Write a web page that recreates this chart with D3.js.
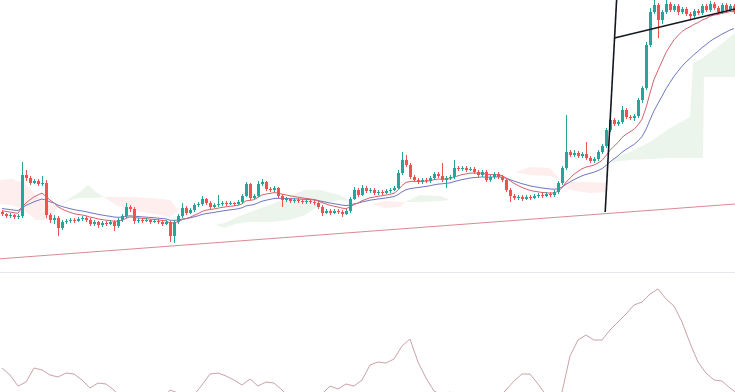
<!DOCTYPE html>
<html>
<head>
<meta charset="utf-8">
<script src="https://cdn.jsdelivr.net/npm/d3@7"></script>
<style>
  html, body { margin: 0; padding: 0; background: #fff; overflow: hidden; }
</style>
</head>
<body>
<svg id="chart" width="735" height="392"></svg>
<script>
// price data (open of each bar = previous close)
const firstOpen = 88;
const closes = [
  86, 84, 85, 83, 84, 125, 122, 117, 119, 116,
  117, 85, 80, 82, 72, 78, 79, 80, 79, 81,
  82, 80, 76, 78, 75, 77, 76, 78, 74, 80,
  84, 93, 91, 79, 80, 79, 80, 78, 79, 78,
  76, 78, 64, 78, 84, 92, 87, 90, 95, 96,
  101, 97, 93, 95, 96, 97, 96, 97, 96, 98,
  104, 116, 102, 104, 116, 118, 111, 110, 112, 104,
  100, 101, 99, 100, 99, 98, 99, 98, 97, 93,
  87, 89, 87, 89, 88, 86, 89, 101, 110, 105,
  112, 109, 110, 107, 108, 107, 109, 110, 112, 127,
  140, 135, 123, 120, 118, 120, 119, 122, 126, 124,
  120, 122, 123, 132, 131, 132, 130, 131, 128, 125,
  128, 120, 123, 126, 123, 120, 110, 104, 102, 103,
  101, 103, 102, 104, 105, 104, 106, 105, 108, 117,
  132, 148, 145, 147, 144, 146, 142, 139, 141, 148,
  154, 170, 180, 176, 178, 190, 183, 182, 184, 200,
  212, 255, 288, 295, 280, 288, 296, 290, 294, 288,
  291, 286, 284, 289, 287, 294, 290, 296, 292, 288,
  295, 290, 294, 288
];
const highs = [
  90, 87, 87, 86, 86, 138, 130, 124, 121, 121,
  124, 120, 87, 85, 84, 80, 81, 82, 82, 83,
  84, 84, 82, 80, 79, 79, 79, 80, 80, 82,
  86, 97, 95, 93, 82, 82, 82, 81, 81, 81,
  80, 80, 79, 80, 86, 97, 94, 92, 97, 98,
  104, 102, 99, 97, 105, 99, 99, 99, 98, 100,
  106, 118, 117, 106, 119, 121, 119, 113, 114, 113,
  106, 103, 102, 102, 102, 101, 101, 100, 100, 99,
  95, 91, 91, 91, 91, 90, 91, 103, 113, 112,
  115, 114, 112, 112, 110, 110, 111, 112, 114, 130,
  148, 145, 137, 125, 122, 122, 122, 124, 128, 128,
  137, 124, 125, 140, 134, 134, 134, 133, 133, 130,
  130, 130, 125, 128, 128, 125, 122, 112, 106, 105,
  105, 105, 105, 106, 107, 107, 108, 108, 110, 119,
  134, 185, 150, 150, 149, 148, 158, 144, 143, 150,
  156, 172, 188, 182, 180, 194, 192, 185, 186, 202,
  214, 258, 292, 305, 297, 290, 304, 298, 296, 296,
  293, 293, 288, 291, 291, 296, 296, 299, 298, 294,
  297, 297, 296, 296
];
const lows = [
  84, 82, 82, 81, 81, 82, 119, 115, 116, 114,
  114, 82, 77, 76, 64, 70, 76, 77, 77, 78,
  79, 78, 74, 74, 72, 73, 74, 75, 69, 72,
  78, 82, 88, 76, 77, 77, 78, 76, 77, 76,
  74, 75, 58, 57, 76, 82, 85, 86, 88, 93,
  94, 95, 91, 92, 93, 94, 94, 95, 94, 95,
  97, 103, 100, 101, 103, 114, 109, 108, 108, 102,
  93, 98, 97, 97, 97, 96, 96, 96, 95, 91,
  84, 86, 85, 86, 86, 83, 85, 87, 100, 103,
  104, 107, 107, 105, 105, 105, 106, 107, 109, 110,
  125, 133, 121, 118, 116, 116, 117, 117, 120, 122,
  118, 112, 120, 121, 129, 129, 128, 129, 126, 123,
  123, 118, 118, 121, 121, 118, 108, 98, 100, 100,
  99, 100, 100, 101, 102, 102, 103, 103, 103, 106,
  115, 130, 143, 143, 142, 142, 140, 137, 137, 139,
  146, 152, 168, 174, 174, 176, 181, 180, 179, 182,
  197, 210, 253, 286, 262, 276, 286, 288, 288, 285,
  286, 284, 280, 282, 285, 285, 288, 288, 290, 286,
  286, 288, 288, 286
];

// ichimoku cloud edges (bar index, span A, span B)
const cloudIdx = [
  -0.5, 2.5, 5.5, 8.5, 11.5, 14.5, 17, 19.5, 21.5, 23.5,
  25.5, 28.5, 32, 37, 42, 44, 53.25, 55.75, 58.25, 62,
  67, 72, 75.75, 79.5, 84.5, 87.5, 92.5, 95.75, 99.5, 100.75,
  104.5, 109.5, 112, 128.25, 132, 137, 139.5, 142, 147, 150.75,
  152, 152.75, 157, 162, 167, 172, 172.75, 175.25, 175.5, 179.5,
  183.25
];
const spanA = [
  96, 95, 90, 80, 80, 95, 102, 108, 115, 108,
  103, 95, 90, 87, 83, 90, 75, 77, 82, 88,
  95, 104, 110, 110, 105, 97, 96, 92, 93, 98,
  105, 104, 100, 128, 125, 124, 120, 110, 107, 108,
  130, 142, 148, 158, 172, 183, 237, 242, 243, 255,
  267
];
const spanB = [
  120, 121, 117, 105, 95, 95, 100, 102, 102, 102,
  103, 103, 103, 102, 100, 90, 75, 72, 76, 78,
  78, 80, 85, 95, 100, 97, 96, 99, 98, 98,
  98, 99, 100, 128, 133, 132, 120, 118, 118, 117,
  130, 138, 140, 141, 142, 142, 142, 142, 223, 223,
  223
];

// lower pane oscillator, one value every 2 bars
const oscValues = [
  16, 12.5, 7, 9, 16, 15, 12.5, 11.5, 13.5, 13,
  10, 6, 8.5, 8, 5, 0, -2, -2.5, -2, -1.5,
  0, 5, 3.5, 1, 2.5, 7.5, 13, 13.5, 12, 10,
  7.5, 10.5, 7, 9, 8.5, 5, 1, -1, -1.5, 0,
  3, 7, 5.5, 8, 7, 10, 17.5, 19, 18.5, 20.5,
  27, 30.5, 19, 11, 4.5, 2.5, 4, 1, -1.5, -2.5,
  -2.5, -1.5, 1, 5, 9.5, 13, 13, 8, 2.5, 0,
  4, 22, 30, 32.5, 30, 30, 35, 39, 43, 47.5,
  49, 53, 55.5, 50.5, 47, 39, 28.5, 19, 13.5, 10,
  9.5, 6, 3
];

// drawn trend lines: [bar index, price]
const redTrend = [[-0.5, 41.2], [183.25, 96]];
const steepTrend = [[150.8, 88], [153.65, 300]];
const topTrend = [[153.1, 262], [183.25, 291]];

const width = 735, height = 392;
const upColor = "#26a69a", downColor = "#ef5350";

const svg = d3.select("#chart");

const x = d3.scaleLinear().domain([0, closes.length - 1]).range([2, 734]);
const y = d3.scaleLinear().domain([30, 300]).range([270, 0]);
const yOsc = d3.scaleLinear().domain([0, 60]).range([400, 280]);

const defs = svg.append("defs");
defs.append("clipPath").attr("id", "pricePane")
  .append("rect").attr("x", 0).attr("y", 0).attr("width", width).attr("height", 271);
defs.append("clipPath").attr("id", "oscPane")
  .append("rect").attr("x", 0).attr("y", 273).attr("width", width).attr("height", height - 273);

const price = svg.append("g").attr("clip-path", "url(#pricePane)");

// cloud: split into runs of same colour
const cloudPts = cloudIdx.map((t, i) => ({ t, a: spanA[i], b: spanB[i] }));
const runs = [];
for (let k = 0; k < cloudPts.length - 1; k++) {
  const p0 = cloudPts[k], p1 = cloudPts[k + 1];
  const d = (p0.a - p0.b) + (p1.a - p1.b);
  if (d === 0) continue;
  const col = d > 0 ? "up" : "down";
  const last = runs[runs.length - 1];
  if (last && last.col === col && last.end === k) {
    last.pts.push(p1);
    last.end = k + 1;
  } else {
    runs.push({ col, pts: [p0, p1], end: k + 1 });
  }
}
const cloudArea = d3.area()
  .x(d => x(d.t))
  .y0(d => y(d.b))
  .y1(d => y(d.a));
price.selectAll("path.cloud")
  .data(runs)
  .join("path")
  .attr("class", "cloud")
  .attr("d", d => cloudArea(d.pts))
  .attr("fill", d => d.col === "up" ? "#43a047" : "#f44336")
  .attr("fill-opacity", d => d.col === "up" ? 0.1 : 0.09);

// moving averages
function ema(values, period, seed) {
  const k = 2 / (period + 1);
  let prev = seed;
  return values.map(v => (prev = prev + k * (v - prev)));
}
const fastMa = ema(closes, 12, 90);
const slowMa = ema(closes, 24, 92);
const maLine = d3.line().x((d, i) => x(i)).y(d => y(d));
price.append("path").attr("d", maLine(slowMa))
  .attr("fill", "none").attr("stroke", "#6f77c0").attr("stroke-width", 1);
price.append("path").attr("d", maLine(fastMa))
  .attr("fill", "none").attr("stroke", "#d3626f").attr("stroke-width", 1);

// candles
const bars = closes.map((c, i) => ({
  i, o: i === 0 ? firstOpen : closes[i - 1], c, h: highs[i], l: lows[i]
}));
const candle = price.selectAll("g.candle")
  .data(bars)
  .join("g")
  .attr("class", "candle")
  .attr("shape-rendering", "crispEdges");
candle.append("line")
  .attr("x1", d => Math.round(x(d.i)) + 0.5)
  .attr("x2", d => Math.round(x(d.i)) + 0.5)
  .attr("y1", d => y(d.h))
  .attr("y2", d => y(d.l))
  .attr("stroke", d => d.c >= d.o ? upColor : downColor)
  .attr("stroke-width", 1);
candle.append("rect")
  .attr("x", d => Math.round(x(d.i)) - 1)
  .attr("width", 3)
  .attr("y", d => y(Math.max(d.o, d.c)))
  .attr("height", d => Math.max(1, Math.abs(y(d.o) - y(d.c))))
  .attr("fill", d => d.c >= d.o ? upColor : downColor);

// trend lines
const tl = d3.line().x(d => x(d[0])).y(d => y(d[1]));
price.append("path").attr("d", tl(redTrend))
  .attr("fill", "none").attr("stroke", "#d98a92").attr("stroke-width", 1);
price.append("path").attr("d", tl(steepTrend))
  .attr("fill", "none").attr("stroke", "#131722").attr("stroke-width", 1.6);
price.append("path").attr("d", tl(topTrend))
  .attr("fill", "none").attr("stroke", "#131722").attr("stroke-width", 1.6);

// pane separator
svg.append("line")
  .attr("x1", 0).attr("x2", width)
  .attr("y1", 272.5).attr("y2", 272.5)
  .attr("stroke", "#e6e8ee").attr("stroke-width", 1);

// oscillator
const osc = svg.append("g").attr("clip-path", "url(#oscPane)");
osc.append("path")
  .attr("d", d3.line().x((d, k) => x(k * 2)).y(d => yOsc(d))(oscValues))
  .attr("fill", "none")
  .attr("stroke", "#c9a2a8")
  .attr("stroke-width", 1);
</script>
</body>
</html>
